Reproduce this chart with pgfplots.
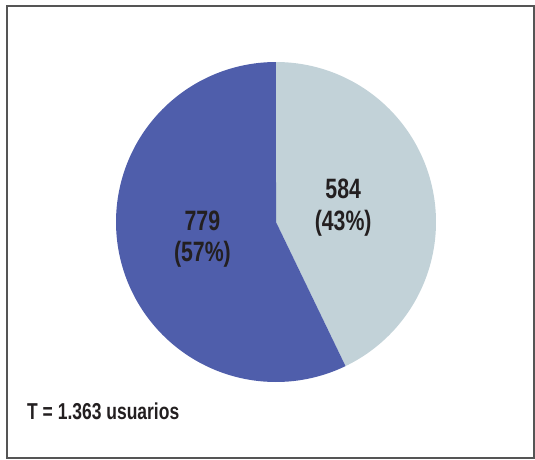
\documentclass[border=0pt]{standalone}
\usepackage{pgfplots}
\pgfplotsset{compat=1.18}
\usepackage{fontspec}
\setmainfont{Liberation Sans}[FakeStretch=0.76]
\definecolor{lightc}{HTML}{C2D2D8}
\definecolor{darkc}{HTML}{4F5EAB}
\definecolor{txt}{HTML}{231F20}
\definecolor{frame}{HTML}{555555}
\begin{document}
\begin{tikzpicture}[x=1pt,y=1pt]
\path (0,0) rectangle (535,459);
\draw[frame, line width=2pt] (6.5,1) rectangle (534,452.5);
\pgfmathsetmacro{\va}{584}
\pgfmathsetmacro{\vb}{779}
\pgfmathsetmacro{\tot}{\va+\vb}
\pgfmathsetmacro{\aend}{90-360*(\va/\tot)}
\pgfmathsetmacro{\bend}{\aend-360*(\vb/\tot)}
\begin{axis}[
  at={(116pt,77pt)}, anchor=south west,
  scale only axis, width=320pt, height=320pt,
  xmin=-1, xmax=1, ymin=-1, ymax=1,
  hide axis, clip=false,
]
\addplot[fill=lightc, draw=none, domain=90:\aend, samples=120] ({cos(x)},{sin(x)}) -- (axis cs:0,0) -- cycle;
\addplot[fill=darkc, draw=none, domain=\aend:\bend, samples=160] ({cos(x)},{sin(x)}) -- (axis cs:0,0) -- cycle;
\node[txt, align=center, font=\bfseries\fontsize{28}{31.5}\selectfont] at (axis cs:0.42,0.09) {584\\(43\%)};
\node[txt, align=center, font=\bfseries\fontsize{28}{31.5}\selectfont] at (axis cs:-0.46,-0.106) {779\\(57\%)};
\end{axis}
\node[txt, anchor=base west, inner sep=0pt, font=\bfseries\fontsize{23}{26}\selectfont] at (27,40) {T = 1.363 usuarios};
\end{tikzpicture}
\end{document}
